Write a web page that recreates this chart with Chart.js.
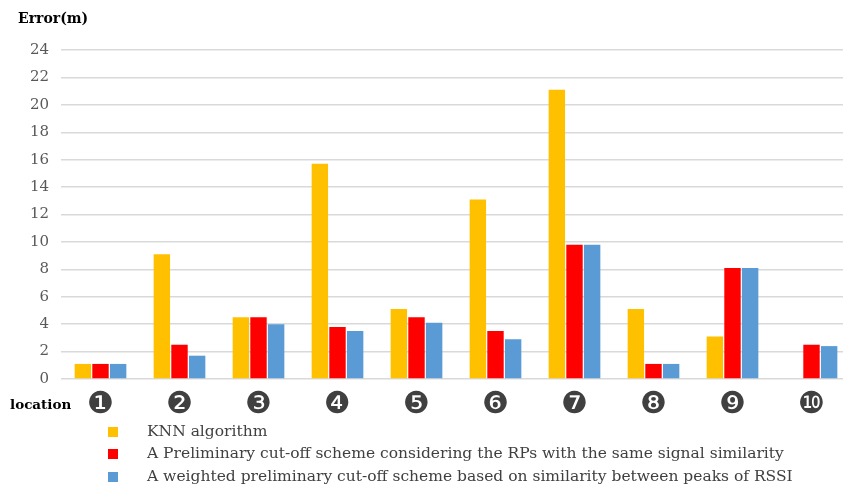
<!DOCTYPE html>
<html><head><meta charset="utf-8">
<script src="https://cdn.jsdelivr.net/npm/chart.js@4/dist/chart.umd.min.js"></script>
<style>html,body{margin:0;padding:0;background:#fff;overflow:hidden}#outer{width:843px;height:487px;overflow:hidden;position:relative}#wrap{width:852px;height:487px;position:relative}</style>
</head><body><div id="outer"><div id="wrap"><canvas id="c"></canvas></div></div>
<script>
const categories = ['❶','❷','❸','❹','❺','❻','❼','❽','❾','❿'];
const knn = [1.1, 9.1, 4.5, 15.7, 5.1, 13.1, 21.1, 5.1, 3.1, 0];
const preliminary = [1.1, 2.5, 4.5, 3.8, 4.5, 3.5, 9.8, 1.1, 8.1, 2.5];
const weighted = [1.1, 1.7, 4.0, 3.5, 4.1, 2.9, 9.8, 1.1, 8.1, 2.4];
const seriesNames = [
  'KNN algorithm',
  'A Preliminary cut-off scheme considering the RPs with the same signal similarity',
  'A weighted preliminary cut-off scheme based on similarity between peaks of RSSI'
];
const yTicks = [0,2,4,6,8,10,12,14,16,18,20,22,24];
const colors = ['#FFC000', '#FF0000', '#5B9BD5'];
const FONT = '"DejaVu Serif", "Liberation Serif", serif';

const extras = {
  id: 'extras',
  afterDraw(chart) {
    const ctx = chart.ctx;
    ctx.save();
    ctx.fillStyle = '#000';
    ctx.textBaseline = 'middle';
    ctx.textAlign = 'left';
    ctx.font = 'bold 14px ' + FONT;
    ctx.fillText('Error(m)', 18, 19);
    ctx.font = 'bold 13.5px ' + FONT;
    ctx.fillText('location', 10, 405);
    // legend
    ctx.font = '15.5px ' + FONT;
    const rows = [432, 454, 477];
    chart.data.datasets.forEach((ds, i) => {
      ctx.fillStyle = ds.backgroundColor;
      ctx.fillRect(108, rows[i] - 5, 10, 10);
      ctx.fillStyle = '#404040';
      ctx.fillText(ds.label, 147, rows[i]);
    });
    ctx.restore();
  }
};

new Chart(document.getElementById('c'), {
  type: 'bar',
  data: {
    labels: categories,
    datasets: [
      { label: seriesNames[0], data: knn, backgroundColor: colors[0] },
      { label: seriesNames[1], data: preliminary, backgroundColor: colors[1] },
      { label: seriesNames[2], data: weighted, backgroundColor: colors[2] }
    ]
  },
  options: {
    responsive: true,
    maintainAspectRatio: false,
    animation: false,
    layout: { padding: { top: 50, right: 1, bottom: 68, left: 0 } },
    datasets: { bar: { categoryPercentage: 0.67, barPercentage: 0.93, borderWidth: 0 } },
    plugins: { legend: { display: false }, tooltip: { enabled: false } },
    scales: {
      x: {
        grid: { display: false, drawTicks: false },
        border: { display: false },
        ticks: { color: '#404040', font: { size: 30, family: '"DejaVu Sans"' }, padding: 8 },
        afterFit(s) { s.height = 40; }
      },
      y: {
        min: 0, max: 24,
        afterBuildTicks(s) { s.ticks = yTicks.map(v => ({ value: v })); },
        grid: { color: '#d9d9d9', lineWidth: 1.5, drawTicks: false },
        border: { display: false },
        ticks: { color: '#595959', font: { size: 15, family: FONT }, padding: 12 },
        afterFit(s) { s.width = 61; }
      }
    }
  },
  plugins: [extras]
});
</script></body></html>
